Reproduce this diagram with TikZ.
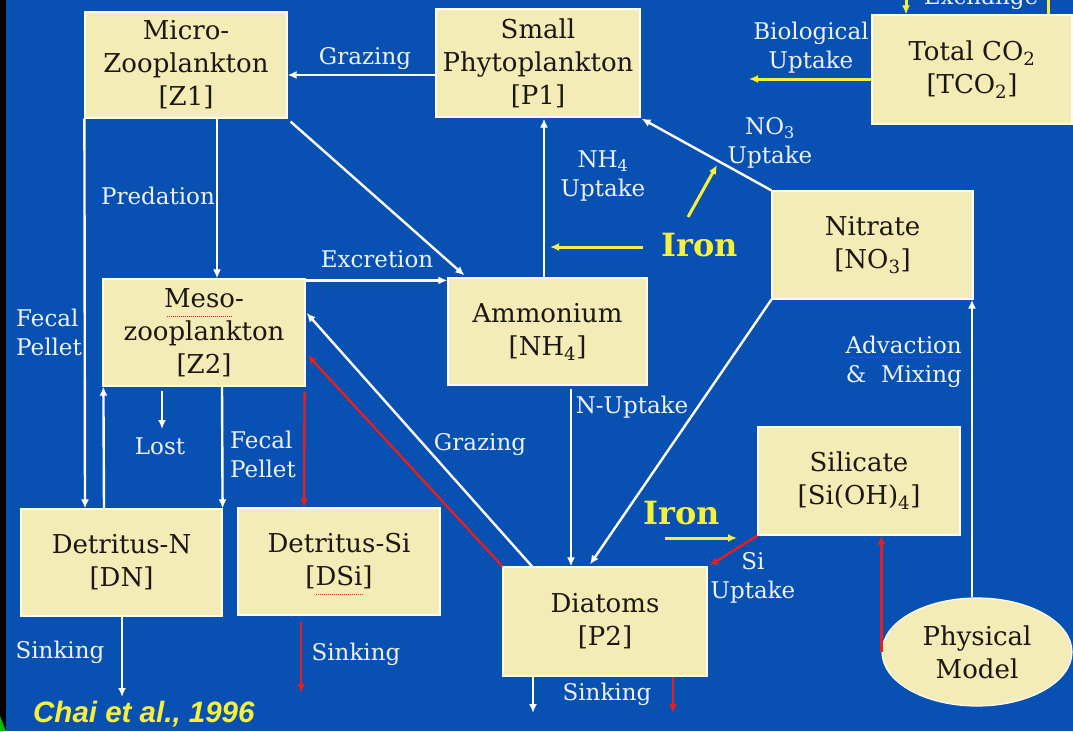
\documentclass[tikz,border=0pt]{standalone}
\usepackage{fontspec}
\setmainfont{DejaVu Serif}
\newfontfamily\citefont{Liberation Sans}
\usetikzlibrary{arrows.meta,shapes.geometric}
\definecolor{bg}{RGB}{8,80,178}
\definecolor{boxfill}{RGB}{243,236,183}
\definecolor{boxtext}{RGB}{28,24,16}
\definecolor{lab}{RGB}{238,242,250}
\definecolor{yel}{RGB}{246,240,60}
\definecolor{redc}{RGB}{228,32,30}
\begin{document}
\begin{tikzpicture}[x=1pt,y=-1pt,
  box/.style={rectangle, fill=boxfill, draw=white!80!boxfill, line width=1.2pt,
    text=boxtext, align=center, font=\fontsize{26}{33}\selectfont, inner sep=0pt,
    execute at begin node={\rule{0pt}{1.05em}}},
  lbl/.style={text=lab, align=center, font=\fontsize{23}{29}\selectfont, inner sep=0pt},
  iron/.style={text=yel, font=\fontsize{32}{34}\selectfont\bfseries, inner sep=0pt},
  tipw/.style={-{Latex[length=9pt,width=8pt]}},
  warr/.style={draw=white, line width=2.4pt, tipw},
  rarr/.style={draw=redc, line width=2.4pt, tipw},
  yarr/.style={draw=yel, line width=3pt, tipw},
  yline/.style={draw=yel, line width=3pt},
  spell/.style={draw=redc, densely dotted, line width=1pt}
]
\useasboundingbox (0,0) rectangle (1073,731);
\fill[bg] (0,0) rectangle (1073,731);
\clip (0,0) rectangle (1073,731);
\fill[black] (0,0) rectangle (6,731);
\fill[green!75!black] (0,716) -- (6,731) -- (0,731) -- cycle;

% boxes
\node[box, minimum width=202pt, minimum height=106pt] (Z1) at (186,65) {Micro-\\Zooplankton\\{[Z1]}};
\node[box, minimum width=204pt, minimum height=108pt] (P1) at (538,63) {Small\\Phytoplankton\\{[P1]}};
\node[box, minimum width=200pt, minimum height=109pt] (T) at (972,69.5) {Total CO\textsubscript{2}\\{[TCO\textsubscript{2}]}};
\node[box, minimum width=202pt, minimum height=107pt] (Z2) at (204,332.5) {Meso-\\zooplankton\\{[Z2]}};
\node[box, minimum width=199pt, minimum height=107pt] (NH4) at (547.5,331.5) {Ammonium\\{[NH\textsubscript{4}]}};
\node[box, minimum width=201pt, minimum height=108pt] (NO3) at (872.5,245) {Nitrate\\{[NO\textsubscript{3}]}};
\node[box, minimum width=202pt, minimum height=108pt] (Si) at (859,481) {Silicate\\{[Si(OH)\textsubscript{4}]}};
\node[box, minimum width=201pt, minimum height=107pt] (DN) at (121.5,562.5) {Detritus-N\\{[DN]}};
\node[box, minimum width=202pt, minimum height=107pt] (DSi) at (339,561.5) {Detritus-Si\\{[DSi]}};
\node[box, minimum width=204pt, minimum height=109pt] (P2) at (605,621.5) {Diatoms\\{[P2]}};
\node[box, ellipse, minimum width=190pt, minimum height=108pt] (Phys) at (977,652) {Physical\\Model};

% spell-check marks
\draw[spell] (167,316) -- (232,316);
\draw[spell] (849,357) -- (962,357);
\draw[spell] (316,594) -- (364,594);

% coordinates for free ends
\coordinate (buEnd) at (749,79);
\coordinate (exIn) at (906,-3);
\coordinate (exOut) at (1048,-3);
\coordinate (advx) at (972,0);
\coordinate (lostEnd) at (162,429);
\coordinate (dnS) at (122,697);
\coordinate (dsiS) at (301,693);
\coordinate (p2Sw) at (533,713);
\coordinate (p2Sr) at (673,713);
\coordinate (ir1a) at (643,247);
\coordinate (ir1b) at (550,247);
\coordinate (ir1c) at (688,217);
\coordinate (ir1d) at (717,165);
\coordinate (ir2a) at (665,538);
\coordinate (ir2b) at (737,538);

% connectors
\draw[warr] ([yshift=-12pt]P1.west) -- ([yshift=-10pt]Z1.east);
\draw[yarr] ([yshift=-9.5pt]T.west) -- (buEnd);
\draw[yarr] (exIn) -- (T.north -| exIn);
\draw[yline] (T.north -| exOut) -- (exOut);
\draw[warr] ([xshift=31pt]Z1.south) -- ([xshift=13pt]Z2.north);
\draw[warr] ([xshift=3pt,yshift=-3pt]Z1.south east) -- ([xshift=17pt,yshift=2pt]NH4.north west);
\draw[warr] ([yshift=-2pt]Z2.north east) -- ([yshift=-3pt]NH4.north west);
\draw[warr] ([xshift=-3.5pt]NH4.north) -- ([xshift=6pt,yshift=-1pt]P1.south);
\draw[warr] (NO3.north west) -- ([xshift=1pt,yshift=-1pt]P1.south east);
\draw[warr] (NO3.south west) -- ([xshift=-15pt,yshift=2pt]P2.north);
\draw[warr] ([xshift=23.5pt,yshift=-3pt]NH4.south) -- ([xshift=-34pt]P2.north);
\draw[warr] (Phys.north -| advx) -- (NO3.south -| advx);
\draw[rarr] (Phys.west) -- (Si.south -| Phys.west);
\draw[rarr] (Si.south west) -- ([xshift=2pt,yshift=1pt]P2.north east);
\draw[rarr] (P2.north west) -- ([xshift=2pt,yshift=-22.5pt]Z2.east);
\draw[warr] ([xshift=-73pt]P2.north) -- ([xshift=1pt,yshift=19.5pt]Z2.east);
\draw[warr] ([xshift=-42pt,yshift=-4pt]Z2.south) -- (lostEnd);
\draw[warr] ([xshift=18pt]Z2.south) -- (DN.north east);
\draw[rarr] ([xshift=-1pt,yshift=-5pt]Z2.south east) -- ([xshift=-35pt]DSi.north);
\draw[warr] (Z1.south west) -- ([xshift=-36.5pt]DN.north);
\draw[warr] ([xshift=-17.5pt]DN.north) -- ([xshift=1pt]Z2.south west);
\draw[warr] (DN.south -| dnS) -- (dnS);
\draw[rarr, shorten <=6pt] (DSi.south -| dsiS) -- (dsiS);
\draw[warr] (P2.south -| p2Sw) -- (p2Sw);
\draw[rarr] (P2.south -| p2Sr) -- (p2Sr);
\draw[yarr] (ir1a) -- (ir1b);
\draw[yarr] (ir1c) -- (ir1d);
\draw[yarr] (ir2a) -- (ir2b);

% labels
\node[lbl, anchor=base] (lExch) at (981,4) {Exchange};
\node[lbl] (lGraz1) at (365,59) {Grazing};
\node[lbl] (lBio) at (811,48) {Biological\\Uptake};
\node[lbl] (lPred) at (158,196) {Predation};
\node[lbl] (lExcr) at (377,259) {Excretion};
\node[lbl] (lNH4) at (603,176) {NH\textsubscript{4}\\Uptake};
\node[lbl] (lNO3) at (770,143) {NO\textsubscript{3}\\Uptake};
\node[lbl] (lNup) at (632,407) {N-Uptake};
\node[lbl, align=right, anchor=east] (lAdv) at (962,362) {Advaction\\\&\ \ Mixing};
\node[lbl] (lSiU) at (753,578) {Si\\Uptake};
\node[lbl] (lGraz2) at (480,445) {Grazing};
\node[lbl] (lLost) at (160,446) {Lost};
\node[lbl, align=left] (lFec2) at (263,454) {Fecal\\Pellet};
\node[lbl, align=left] (lFec1) at (49,332) {Fecal\\Pellet};
\node[lbl] (lSink1) at (60,652) {Sinking};
\node[lbl] (lSink2) at (356,654) {Sinking};
\node[lbl] (lSink3) at (607,694) {Sinking};
\node[iron] (iron1) at (700,245) {Iron};
\node[iron] (iron2) at (682,513) {Iron};
\node[text=yel, inner sep=0pt, anchor=west, font=\citefont\fontsize{29.5}{32}\selectfont\bfseries\itshape] (cite) at (33,714) {Chai et al., 1996};
\end{tikzpicture}
\end{document}
